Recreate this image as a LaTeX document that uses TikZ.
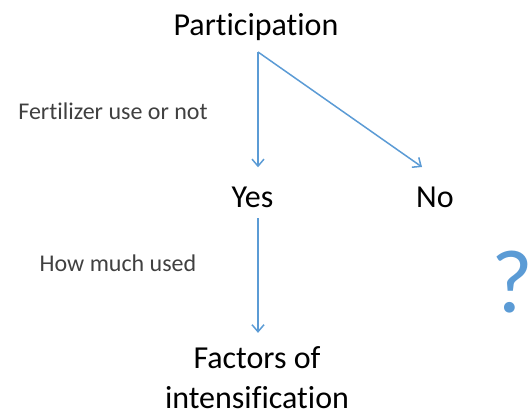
\documentclass[tikz,border=0pt]{standalone}
\usepackage{fontspec}
\setmainfont{Carlito}[Ligatures=NoCommon]
\usetikzlibrary{arrows.meta,positioning,calc}
\definecolor{TreeBlue}{HTML}{5B9BD5}
\definecolor{TreeGray}{HTML}{404040}

\begin{document}
\begin{tikzpicture}[x=1pt,y=-1pt,
    branch/.style={inner sep=0pt,anchor=base,font=\fontsize{32}{40}\selectfont,align=center},
    note/.style={inner sep=0pt,text=TreeGray,font=\fontsize{24}{28}\selectfont},
    arr/.style={-{Straight Barb[length=7pt,width=12pt]},line width=1.5pt,TreeBlue}
  ]
    \useasboundingbox (0,0) rectangle (532,417);
    \node[branch] (part) at (256,36) {Participation};
    \node[branch] (yes) at (252.5,207) {Yes};
    \node[branch] (no) at (435,207) {No};
    \node[branch] (fac) at (257,408) {Factors of\\intensification};
    \node[note] (fert) at (113,111) {Fertilizer use or not};
    \node[note] (how) at (118,263) {How much used};
    \node[inner sep=0pt,anchor=base west,text=TreeBlue,font=\fontsize{90}{90}\selectfont] (ask) at (491,312) {?};
    \coordinate (split) at (258,52);
    \draw[arr] (split) -- ([yshift=19pt]yes.north -| split);
    \draw[arr] (split) -- ([shift={(-13pt,40pt)}]no.base);
    \draw[arr] ([yshift=-11pt]yes.base -| split) -- ([yshift=13pt]fac.north -| split);
  \end{tikzpicture}
\end{document}
